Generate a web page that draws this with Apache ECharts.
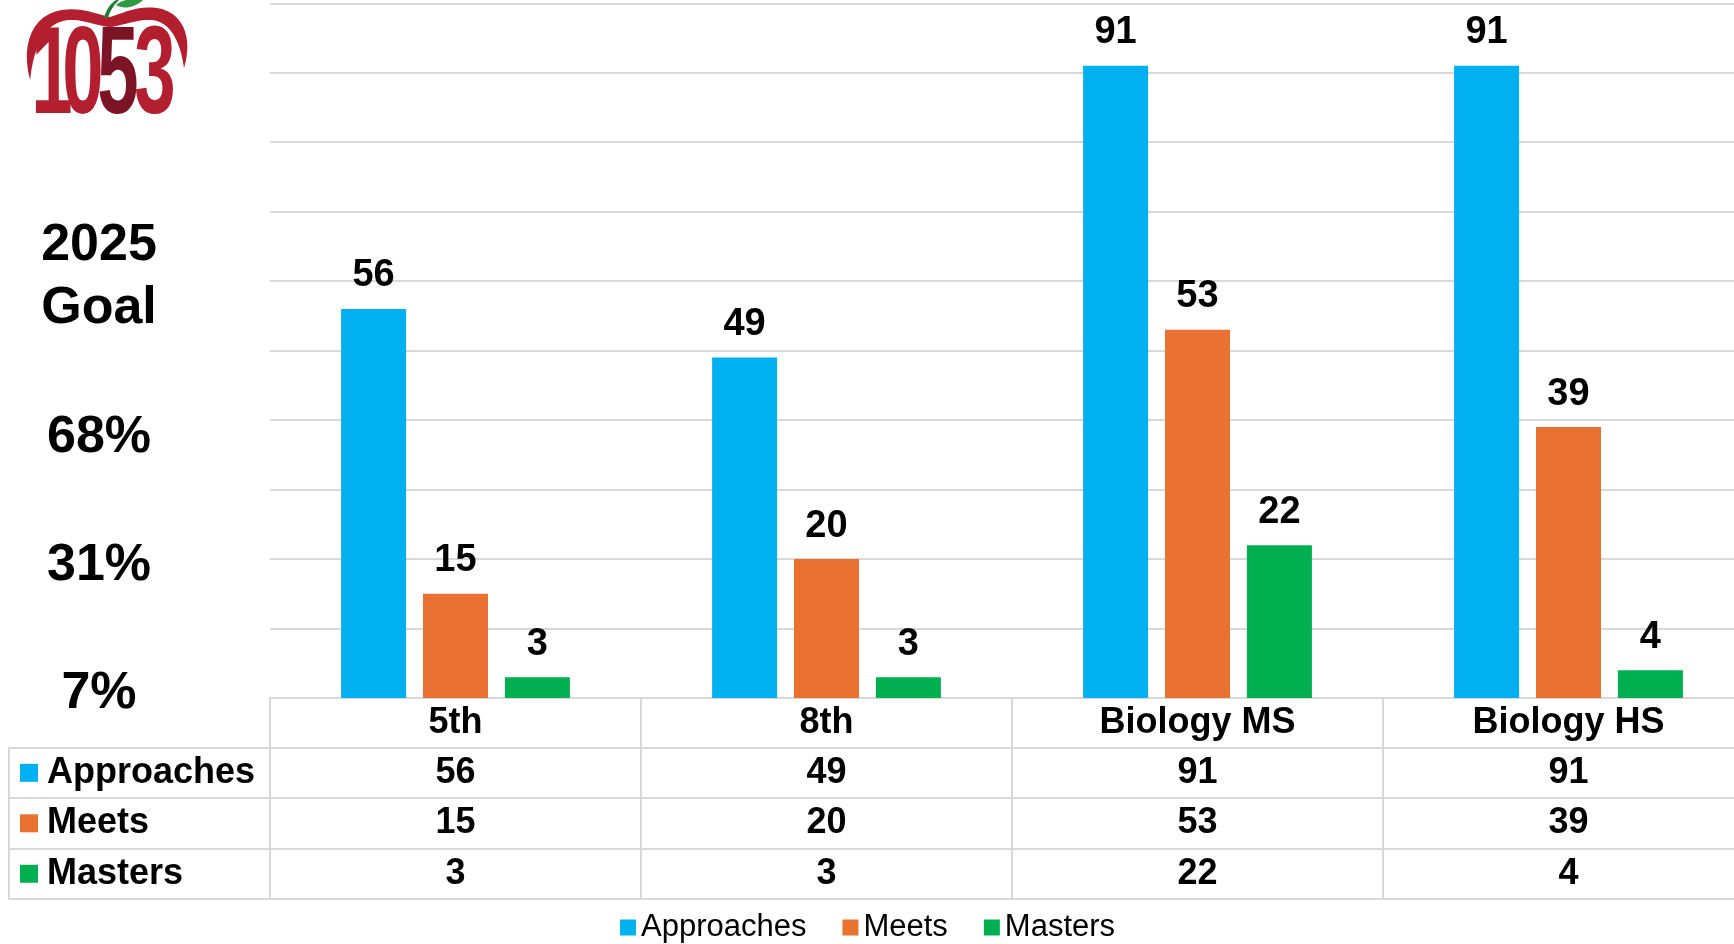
<!DOCTYPE html>
<html>
<head>
<meta charset="utf-8">
<script src="https://cdn.jsdelivr.net/npm/echarts@6/dist/echarts.min.js"></script>
<style>
html,body{margin:0;padding:0;background:#fff;}
#chart{width:1734px;height:944px;}
#dbg{position:absolute;left:300px;top:100px;font:16px monospace;color:red;white-space:pre;}
</style>
</head>
<body>
<div id="chart"></div>
<div id="dbg"></div>
<script>
const categories = ['5th', '8th', 'Biology MS', 'Biology HS'];
const seriesNames = ['Approaches', 'Meets', 'Masters'];
const approaches = [56, 49, 91, 91];
const meets = [15, 20, 53, 39];
const masters = [3, 3, 22, 4];
const goalTitle = ['2025', 'Goal'];
const goalLabels = ['68%', '31%', '7%'];
const logoDigits = ['1', '0', '5', '3'];

const colors = ['#00B0F0', '#E97132', '#00B050'];
const FONT = '"Liberation Sans", Arial, sans-serif';
const GRID_LINE = '#D9D9D9';

const rows = [approaches, meets, masters];
const tableData = [];
rows.forEach((vals, r) => vals.forEach((v, c) => tableData.push([c, r, v])));

const barSeries = seriesNames.map((name, i) => ({
  name: name,
  type: 'bar',
  xAxisIndex: 0,
  yAxisIndex: 0,
  data: rows[i],
  barWidth: 65,
  barGap: '26%',
  itemStyle: { color: colors[i] },
  label: {
    show: true, position: 'top', distance: 14, color: '#000',
    fontFamily: FONT, fontWeight: 'bold', fontSize: 38
  },
  silent: true
}));

const rich = { t: { fontFamily: FONT, fontWeight: 'bold', fontSize: 36, color: '#000', padding: [0, 0, 0, 9] } };
colors.forEach((c, i) => { rich['s' + i] = { width: 18, height: 18, backgroundColor: c }; });

// ---- logo decoration (apple shape outline) ----
function bezierPoints(segs, n) {
  const pts = [];
  segs.forEach(s => {
    for (let k = 0; k <= n; k++) {
      const t = k / n, u = 1 - t;
      pts.push([
        u*u*u*s[0][0] + 3*u*u*t*s[1][0] + 3*u*t*t*s[2][0] + t*t*t*s[3][0],
        u*u*u*s[0][1] + 3*u*u*t*s[1][1] + 3*u*t*t*s[2][1] + t*t*t*s[3][1]
      ]);
    }
  });
  return pts;
}
const appleArc = bezierPoints([
  [[30, 80], [20, 42], [34, 14], [62, 10]],
  [[62, 10], [82, 7], [96, 14], [110, 17]],
  [[110, 17], [126, 12], [142, 4], [162, 9]],
  [[162, 9], [186, 16], [192, 42], [184, 68]],
  [[184, 68], [180, 40], [170, 22], [152, 20]],
  [[152, 20], [136, 19], [122, 26], [110, 27]],
  [[110, 27], [96, 26], [84, 19], [68, 20]],
  [[68, 20], [46, 22], [34, 44], [30, 80]]
], 12);
const stemPts = bezierPoints([
  [[104, 18], [106, 10], [110, 4], [116, 0]],
  [[116, 0], [119, 0], [119, 0], [119, 0]],
  [[119, 0], [113, 6], [110, 11], [108, 18]]
], 8);
const leafPts = bezierPoints([
  [[116, 5], [124, -2], [138, -2], [143, 0]],
  [[143, 0], [136, 7], [124, 10], [116, 5]]
], 10);

const digitPos = [52, 83, 118, 155];
const digitColor = ['#B31F2E', '#B31F2E', '#7D1426', '#B31F2E'];

const logoGraphics = [
  { type: 'polygon', shape: { points: appleArc }, style: { fill: '#B31F2E' } },
  { type: 'polygon', shape: { points: stemPts }, style: { fill: '#1E7E34' } },
  { type: 'polygon', shape: { points: leafPts }, style: { fill: '#2E9A44' } }
];
logoDigits.forEach((d, i) => {
  logoGraphics.push({
    type: 'text', x: digitPos[i], y: 79, scaleX: 0.6,
    style: { text: d, x: 0, y: 0, align: 'center', verticalAlign: 'middle', font: 'bold 124px ' + FONT, fill: digitColor[i] }
  });
});

const textGraphics = [];
const leftText = [[goalTitle[0], 246], [goalTitle[1], 309], [goalLabels[0], 438], [goalLabels[1], 566], [goalLabels[2], 694]];
leftText.forEach(([t, y]) => {
  textGraphics.push({
    type: 'text', x: 99, y: y,
    style: { text: t, x: 0, y: 0, align: 'center', verticalAlign: 'middle', font: 'bold 52px ' + FONT, fill: '#000' }
  });
});

function build(withLogo) {
  return {
    backgroundColor: '#fff',
    animation: false,
    color: colors,
    grid: [
      { left: 270, width: 1484, top: 3.3, bottom: 246, outerBoundsMode: 'none', containLabel: false },
      { left: 270, width: 1484, top: 747.6, bottom: 45, outerBoundsMode: 'none', containLabel: false }
    ],
    legend: {
      data: seriesNames, left: 615, top: 907, icon: 'rect', itemWidth: 16, itemHeight: 16, itemGap: 36,
      textStyle: { fontFamily: FONT, fontSize: 31, color: '#000' }
    },
    xAxis: [
      {
        type: 'category', gridIndex: 0, data: categories,
        axisLine: { show: true, lineStyle: { color: GRID_LINE, width: 2 } },
        axisTick: { show: false }, axisLabel: { show: false }, splitLine: { show: false }
      },
      {
        type: 'category', gridIndex: 1, data: categories, position: 'top',
        axisLine: { show: true, lineStyle: { color: GRID_LINE, width: 2 } },
        axisTick: { show: true, length: 49.6, interval: 0, lineStyle: { color: GRID_LINE, width: 2 } },
        axisLabel: { show: true, interval: 0, margin: 7, fontFamily: FONT, fontWeight: 'bold', fontSize: 36, color: '#000', lineHeight: 36 },
        splitLine: { show: true, interval: 0, lineStyle: { color: GRID_LINE, width: 2 } }
      }
    ],
    yAxis: [
      {
        type: 'value', gridIndex: 0, min: 0, max: 100, interval: 10,
        axisLine: { show: false }, axisTick: { show: false }, axisLabel: { show: false },
        splitLine: { show: true, lineStyle: { color: GRID_LINE, width: 2 } }
      },
      {
        type: 'category', gridIndex: 1, data: seriesNames, inverse: true,
        axisLine: { show: true, lineStyle: { color: GRID_LINE, width: 2 } },
        axisTick: { show: true, length: 261, interval: 0, lineStyle: { color: GRID_LINE, width: 2 } },
        axisLabel: { show: true, interval: 0, align: 'left', margin: 250, formatter: (v, i) => '{s' + i + '|}{t|' + v + '}', rich: rich },
        splitLine: { show: true, interval: 0, lineStyle: { color: GRID_LINE, width: 2 } }
      },
      {
        type: 'category', gridIndex: 1, data: seriesNames, inverse: true, position: 'left', offset: 261,
        axisLine: { show: true, lineStyle: { color: GRID_LINE, width: 2 } },
        axisTick: { show: false }, axisLabel: { show: false }, splitLine: { show: false }
      }
    ],
    series: barSeries.concat([{
      name: 'table', type: 'scatter', xAxisIndex: 1, yAxisIndex: 1, data: tableData,
      symbolSize: 0, itemStyle: { color: '#fff' },
      label: { show: true, position: 'inside', formatter: p => String(p.data[2]), fontFamily: FONT, fontWeight: 'bold', fontSize: 36, color: '#000', opacity: 1 },
      silent: true
    }]),
    graphic: withLogo ? logoGraphics.concat(textGraphics) : textGraphics
  };
}

const dbg = document.getElementById('dbg');
let chart = echarts.init(document.getElementById('chart'));
try {
  chart.setOption(build(true));
} catch (e) {
  dbg.textContent = 'logo fail: ' + e.message;
  chart.dispose();
  chart = echarts.init(document.getElementById('chart'));
  chart.setOption(build(false));
}
</script>
</body>
</html>
